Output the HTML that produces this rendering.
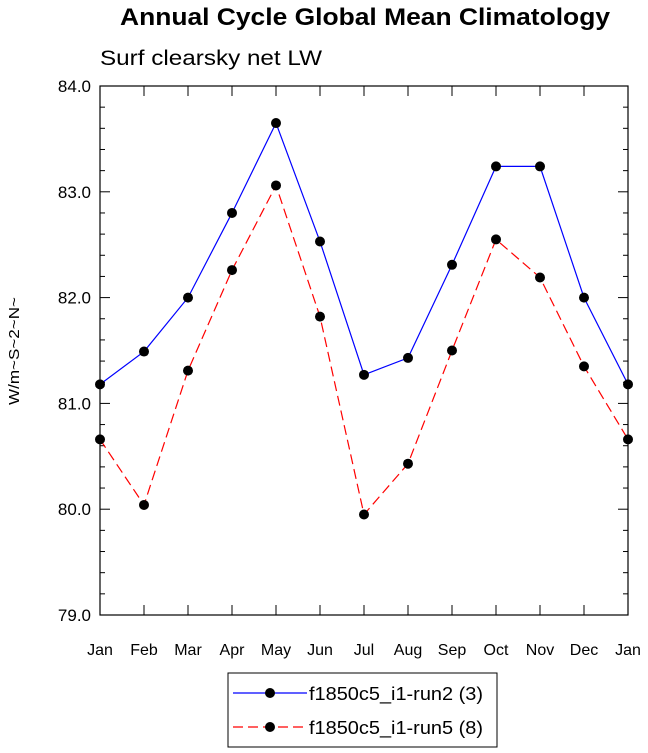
<!DOCTYPE html>
<html><head><meta charset="utf-8"><style>
body{margin:0;background:#fff;}
svg{display:block;font-family:"Liberation Sans",sans-serif;}
</style></head><body>
<svg id="chart" width="648" height="753">
<text x="120" y="25" font-size="24" font-weight="bold" textLength="490" lengthAdjust="spacingAndGlyphs">Annual Cycle Global Mean Climatology</text>
<text x="100" y="65" font-size="21" textLength="222" lengthAdjust="spacingAndGlyphs">Surf clearsky net LW</text>
<text transform="translate(19,351) rotate(-90)" text-anchor="middle" font-size="15" textLength="108" lengthAdjust="spacingAndGlyphs">W/m~S~2~N~</text>
<g id="axes"></g>
<g id="series"></g>
<g>
<rect x="228" y="673" width="269" height="74" fill="#fff" stroke="#000" stroke-width="1"/>
<line x1="233" y1="693" x2="307" y2="693" stroke="#0000ff" stroke-width="1.2"/>
<circle cx="270" cy="693" r="5" fill="#000"/>
<text x="309" y="700" font-size="18" textLength="174" lengthAdjust="spacingAndGlyphs">f1850c5_i1-run2 (3)</text>
<line x1="233" y1="727" x2="307" y2="727" stroke="#ff0000" stroke-width="1.2" stroke-dasharray="10,5"/>
<circle cx="270" cy="727" r="5" fill="#000"/>
<text x="309" y="734" font-size="18" textLength="174" lengthAdjust="spacingAndGlyphs">f1850c5_i1-run5 (8)</text>
</g>
</svg>
<script>
const months=["Jan","Feb","Mar","Apr","May","Jun","Jul","Aug","Sep","Oct","Nov","Dec","Jan"];
const run2=[81.18,81.49,82.0,82.80,83.65,82.53,81.27,81.43,82.31,83.24,83.24,82.0,81.18];
const run5=[80.66,80.04,81.31,82.26,83.06,81.82,79.95,80.43,81.50,82.55,82.19,81.35,80.66];
const yTicks=["79.0","80.0","81.0","82.0","83.0","84.0"];
const L=100,R=628,T=86,B=615,ymin=79,ymax=84;
const NS="http://www.w3.org/2000/svg";
const xs=i=>L+(R-L)*i/(months.length-1);
const ys=v=>B-(v-ymin)/(ymax-ymin)*(B-T);
function mk(tag,attrs,parent){const e=document.createElementNS(NS,tag);for(const k in attrs)e.setAttribute(k,attrs[k]);parent.appendChild(e);return e;}
const ax=document.getElementById('axes');
const frame=mk('rect',{x:L,y:T,width:R-L,height:B-T,fill:'none',stroke:'#000','stroke-width':1.2},ax);


for(let v=ymin;v<=ymax+1e-9;v+=0.2){
  const y=ys(v);const major=Math.abs(v-Math.round(v))<1e-6;const len=major?10:5;
  mk('line',{x1:L,y1:y,x2:L+len,y2:y,stroke:'#000'},ax);
  mk('line',{x1:R,y1:y,x2:R-len,y2:y,stroke:'#000'},ax);
}
yTicks.forEach(t=>{
  const tx=mk('text',{x:L-9,y:ys(parseFloat(t))+6,'text-anchor':'end','font-size':17},ax);
  tx.textContent=t;
  
  
});
months.forEach((m,i)=>{
  const x=xs(i);
  mk('line',{x1:x,y1:B,x2:x,y2:B-10,stroke:'#000'},ax);
  mk('line',{x1:x,y1:T,x2:x,y2:T+10,stroke:'#000'},ax);
  const tx=mk('text',{x:x,y:B+40,'text-anchor':'middle','font-size':16},ax);
  tx.textContent=m;
  
  
});
const sg=document.getElementById('series');
function draw(vals,color,dash,name){
  const pl=mk('polyline',{points:vals.map((v,i)=>xs(i)+','+ys(v)).join(' '),fill:'none',stroke:color,'stroke-width':1.2},sg);
  if(dash)pl.setAttribute('stroke-dasharray',dash);
  
  
  vals.forEach((v,i)=>{
    const c=mk('circle',{cx:xs(i),cy:ys(v),r:5,fill:'#000'},sg);
    
    
  });
}
draw(run2,'#0000ff',null,'run2');
draw(run5,'#ff0000','10,5','run5');
</script>
</body></html>
